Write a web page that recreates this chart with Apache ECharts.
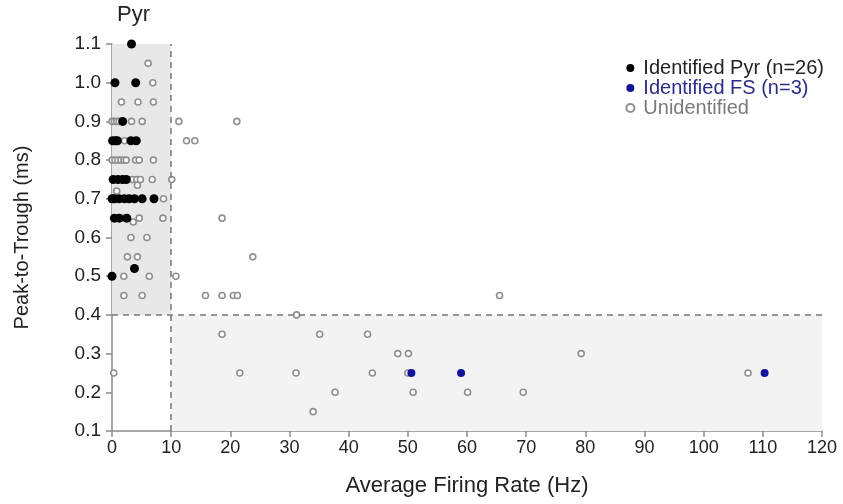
<!DOCTYPE html>
<html>
<head>
<meta charset="utf-8">
<script src="https://cdn.jsdelivr.net/npm/echarts@6/dist/echarts.min.js"></script>
<style>
  html, body { margin: 0; padding: 0; background: #fff; }
  #chart { width: 843px; height: 504px; }
</style>
</head>
<body>
<div id="chart"></div>
<script>
// identified pyramidal cells [rate Hz, peak-to-trough ms]
const pyrPoints = [
  [3.3, 1.1],
  [0.5, 1.0], [4.0, 1.0],
  [1.8, 0.9],
  [0.1, 0.85], [0.6, 0.85], [0.9, 0.85], [3.2, 0.85], [4.1, 0.85],
  [0.2, 0.75], [1.0, 0.75], [1.8, 0.75], [2.4, 0.75],
  [0.0, 0.7], [0.4, 0.7], [1.2, 0.7], [2.1, 0.7], [2.9, 0.7], [3.8, 0.7], [5.1, 0.7], [7.1, 0.7],
  [0.4, 0.65], [1.2, 0.65], [2.5, 0.65],
  [3.8, 0.52],
  [0.0, 0.5]
];

// identified fast-spiking cells
const fsPoints = [[50.6, 0.25], [59.0, 0.25], [110.3, 0.25]];

// unidentified units
const unidPoints = [
  [6.1, 1.05], [6.9, 1.0], [1.6, 0.95], [4.4, 0.95], [7.0, 0.95],
  [0.0, 0.9], [0.4, 0.9], [0.8, 0.9], [1.2, 0.9], [3.3, 0.9], [5.1, 0.9], [11.3, 0.9], [21.1, 0.9],
  [2.1, 0.85], [12.6, 0.85], [14.0, 0.85],
  [0.0, 0.8], [0.5, 0.8], [1.0, 0.8], [1.5, 0.8], [2.0, 0.8], [2.4, 0.8], [4.0, 0.8], [4.6, 0.8], [7.0, 0.8],
  [2.8, 0.75], [3.5, 0.75], [4.2, 0.75], [4.8, 0.75], [6.8, 0.75], [10.1, 0.75],
  [0.8, 0.72], [4.3, 0.735],
  [8.7, 0.7],
  [1.8, 0.65], [3.6, 0.64], [4.6, 0.65], [8.6, 0.65],
  [3.2, 0.6], [5.9, 0.6],
  [2.6, 0.55], [4.3, 0.55],
  [2.0, 0.5], [6.3, 0.5], [10.8, 0.5],
  [2.0, 0.45], [5.1, 0.45],
  [18.6, 0.65], [23.8, 0.55],
  [15.8, 0.45], [18.6, 0.45], [20.5, 0.45], [21.2, 0.45], [65.5, 0.45],
  [31.2, 0.4],
  [18.6, 0.35], [35.1, 0.35], [43.2, 0.35],
  [48.3, 0.3], [50.1, 0.3], [79.3, 0.3],
  [0.3, 0.25], [21.6, 0.25], [31.1, 0.25], [44.0, 0.25], [50.0, 0.25], [107.5, 0.25],
  [37.7, 0.2], [50.9, 0.2], [60.1, 0.2], [69.5, 0.2],
  [34.0, 0.15]
];

const xTicks = { min: 0, max: 120, step: 10 };
const yTicks = { min: 0.1, max: 1.1, step: 0.1 };
const pyrCut = 10;   // Hz
const fsCut = 0.4;   // ms

const font = 'Liberation Sans, Arial, sans-serif';
const axisGray = '#8a8a8a';

const chart = echarts.init(document.getElementById('chart'));
chart.setOption({
  animation: false,
  grid: { left: 112, right: 21, top: 44, bottom: 73 },
  legend: {
    orient: 'vertical',
    right: 14,
    top: 53,
    itemWidth: 8,
    itemHeight: 8,
    itemGap: 0,
    icon: 'circle',
    textStyle: { fontFamily: font, fontSize: 20, lineHeight: 18, padding: [0, 0, 0, 4] },
    data: [
      { name: 'Identified Pyr (n=26)', textStyle: { color: '#222' } },
      { name: 'Identified FS (n=3)', textStyle: { color: '#2b2b8c' } },
      { name: 'Unidentified', textStyle: { color: '#7a7a7a' } }
    ]
  },
  xAxis: {
    type: 'value',
    min: xTicks.min, max: xTicks.max, interval: xTicks.step,
    name: 'Average Firing Rate (Hz)',
    nameLocation: 'middle',
    nameGap: 44,
    nameTextStyle: { fontFamily: font, fontSize: 22, color: '#222' },
    axisLine: { lineStyle: { color: axisGray, width: 1.5 } },
    axisTick: { show: true, length: 6, lineStyle: { color: axisGray, width: 1.5 } },
    axisLabel: { fontFamily: font, fontSize: 18, color: '#222', margin: 8 },
    splitLine: { show: false }
  },
  yAxis: {
    type: 'value',
    min: yTicks.min, max: yTicks.max, interval: yTicks.step,
    name: 'Peak-to-Trough (ms)',
    nameLocation: 'middle',
    nameGap: 80,
    nameTextStyle: { fontFamily: font, fontSize: 20, color: '#222' },
    axisLine: { show: true, lineStyle: { color: axisGray, width: 1.5 } },
    axisTick: { show: true, length: 6, lineStyle: { color: axisGray, width: 1.5 } },
    axisLabel: {
      fontFamily: font, fontSize: 19, color: '#222', margin: 11,
      formatter: v => v.toFixed(1)
    },
    splitLine: { show: false }
  },
  graphic: [
    { type: 'text', left: 117, top: 4, style: { text: 'Pyr', font: '22px ' + font, fill: '#222' } },
    { type: 'text', left: 782, top: 328, style: { text: 'FS', font: '23px ' + font, fill: '#2b2b8c' } }
  ],
  series: [
    {
      name: 'regions',
      type: 'scatter',
      data: [],
      silent: true,
      markArea: {
        silent: true,
        data: [
          [{ coord: [xTicks.min, fsCut], itemStyle: { color: '#e8e8e8' } }, { coord: [pyrCut, yTicks.max] }],
          [{ coord: [pyrCut, yTicks.min], itemStyle: { color: '#f3f3f3' } }, { coord: [xTicks.max, fsCut] }]
        ]
      },
      markLine: {
        silent: true,
        symbol: 'none',
        label: { show: false },
        lineStyle: { color: '#777', type: [6, 5], width: 1.5 },
        data: [
          [{ coord: [pyrCut, yTicks.min] }, { coord: [pyrCut, yTicks.max] }],
          [{ coord: [xTicks.min, fsCut] }, { coord: [xTicks.max, fsCut] }]
        ]
      }
    },
    {
      name: 'Unidentified',
      type: 'scatter',
      data: unidPoints,
      symbol: 'circle',
      symbolSize: 6,
      itemStyle: { color: '#ffffff', borderColor: '#8f8f8f', borderWidth: 1.6, opacity: 1 }
    },
    {
      name: 'Identified Pyr (n=26)',
      type: 'scatter',
      data: pyrPoints,
      symbol: 'circle',
      symbolSize: 9,
      itemStyle: { color: '#000000', opacity: 1 }
    },
    {
      name: 'Identified FS (n=3)',
      type: 'scatter',
      data: fsPoints,
      symbol: 'circle',
      symbolSize: 8,
      itemStyle: { color: '#12129a', opacity: 1 }
    }
  ]
});
</script>
</body>
</html>
